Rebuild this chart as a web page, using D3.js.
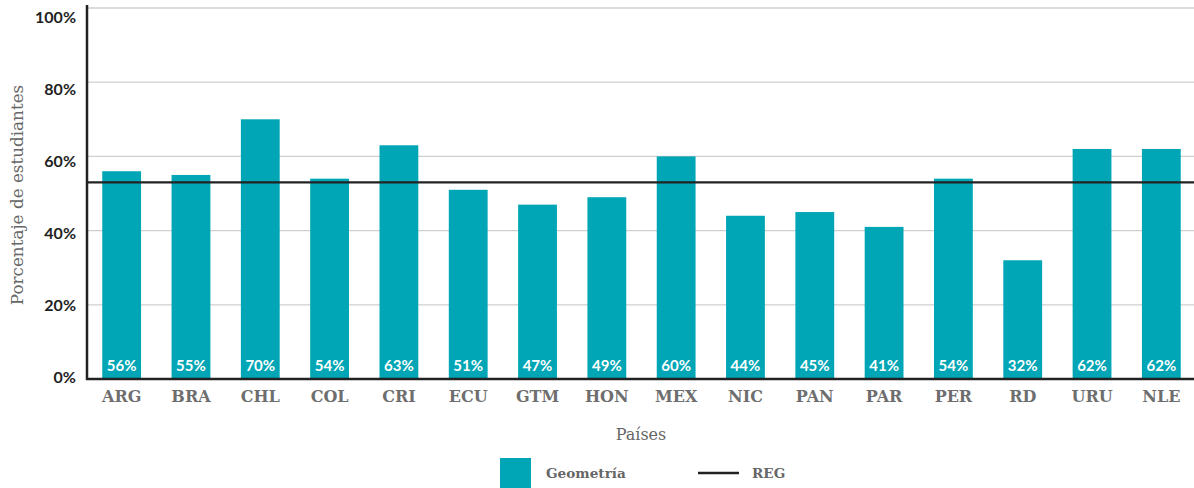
<!DOCTYPE html>
<html>
<head>
<meta charset="utf-8">
<script src="https://cdn.jsdelivr.net/npm/d3@7"></script>
<style>
  body { margin: 0; background: #fff; }
  svg { display: block; }
  .tick-y { font-family: Lato, sans-serif; font-weight: 700; font-size: 16px; fill: #222; }
  .cat text { font-family: "DejaVu Serif", serif; font-weight: 700; font-size: 16px; fill: #6e6e6e; }
  .value { font-family: Lato, sans-serif; font-weight: 700; font-size: 15px; fill: #fff; }
  .label { font-family: "DejaVu Serif", serif; font-size: 16px; fill: #666; }
  .ylabel { font-family: "DejaVu Serif", serif; font-size: 16.8px; fill: #666; }
  .legend { font-family: "DejaVu Serif", serif; font-weight: 700; font-size: 13.6px; fill: #666; }
</style>
</head>
<body>
<svg width="1194" height="488"></svg>
<script>
const countries = ['ARG','BRA','CHL','COL','CRI','ECU','GTM','HON','MEX','NIC','PAN','PAR','PER','RD','URU','NLE']
const geometria = [56,55,70,54,63,51,47,49,60,44,45,41,54,32,62,62]
const regValue = 53
const yTicks = [0,20,40,60,80,100]

const svg = d3.select('svg')
const plotLeft = 87, plotRight = 1196, plotTop = 8, plotBottom = 379

const xScale = d3.scaleBand()
  .range([plotLeft, plotRight])
  .domain(countries)
  .paddingInner(0.44)
  .paddingOuter(0.22)

const yScale = d3.scaleLinear()
  .range([plotBottom, plotTop])
  .domain([0, 100])

// tick labels in the original sit on a slightly tighter spacing than the grid
const labelScale = d3.scaleLinear()
  .range([377, 17])
  .domain([0, 100])

// grid
svg.append('g')
  .selectAll('line')
  .data(yTicks.slice(1))
  .enter()
  .append('line')
  .attr('x1', plotLeft).attr('x2', 1194)
  .attr('y1', d => yScale(d)).attr('y2', d => yScale(d))
  .attr('stroke', '#cfcfcf')
  .attr('stroke-width', 1.3)

// y tick labels
svg.append('g')
  .selectAll('text')
  .data(yTicks)
  .enter()
  .append('text')
  .attr('class', 'tick-y')
  .attr('x', plotLeft - 11)
  .attr('y', d => labelScale(d))
  .attr('dy', '0.35em')
  .attr('text-anchor', 'end')
  .text(d => d + '%')

// bars
const bars = svg.append('g')
  .selectAll('g')
  .data(countries.map((c, i) => ({name: c, value: geometria[i]})))
  .enter()
  .append('g')

bars.append('rect')
  .attr('x', d => xScale(d.name))
  .attr('y', d => yScale(d.value))
  .attr('width', xScale.bandwidth())
  .attr('height', d => plotBottom - yScale(d.value))
  .attr('fill', '#00a6b6')

bars.append('text')
  .attr('class', 'value')
  .attr('x', d => xScale(d.name) + xScale.bandwidth() / 2)
  .attr('y', plotBottom - 8)
  .attr('text-anchor', 'middle')
  .text(d => d.value + '%')

// REG line
svg.append('line')
  .attr('x1', plotLeft).attr('x2', 1194)
  .attr('y1', yScale(regValue)).attr('y2', yScale(regValue))
  .attr('stroke', '#222')
  .attr('stroke-width', 2.2)

// axes lines
svg.append('line')
  .attr('x1', plotLeft).attr('x2', plotLeft)
  .attr('y1', 5).attr('y2', plotBottom + 1)
  .attr('stroke', '#222').attr('stroke-width', 2.5)
svg.append('line')
  .attr('x1', plotLeft - 1).attr('x2', 1194)
  .attr('y1', plotBottom).attr('y2', plotBottom)
  .attr('stroke', '#222').attr('stroke-width', 2.5)

// x categories
svg.append('g')
  .attr('class', 'cat')
  .attr('transform', `translate(0, ${plotBottom})`)
  .call(d3.axisBottom(xScale).tickSize(0).tickPadding(12))
  .call(g => g.select('.domain').remove())

// axis titles
svg.append('text')
  .attr('class', 'label')
  .attr('x', 641)
  .attr('y', 440)
  .attr('text-anchor', 'middle')
  .text('Países')

svg.append('text')
  .attr('class', 'ylabel')
  .attr('transform', 'translate(23, 195) rotate(-90)')
  .attr('text-anchor', 'middle')
  .text('Porcentaje de estudiantes')

// legend
svg.append('rect')
  .attr('x', 500).attr('y', 458)
  .attr('width', 31).attr('height', 30)
  .attr('fill', '#00a6b6')
svg.append('text')
  .attr('class', 'legend')
  .attr('x', 546).attr('y', 478)
  .text('Geometría')
svg.append('line')
  .attr('x1', 698).attr('x2', 739)
  .attr('y1', 473).attr('y2', 473)
  .attr('stroke', '#222').attr('stroke-width', 2.5)
svg.append('text')
  .attr('class', 'legend')
  .attr('x', 752).attr('y', 478)
  .text('REG')
</script>
</body>
</html>
